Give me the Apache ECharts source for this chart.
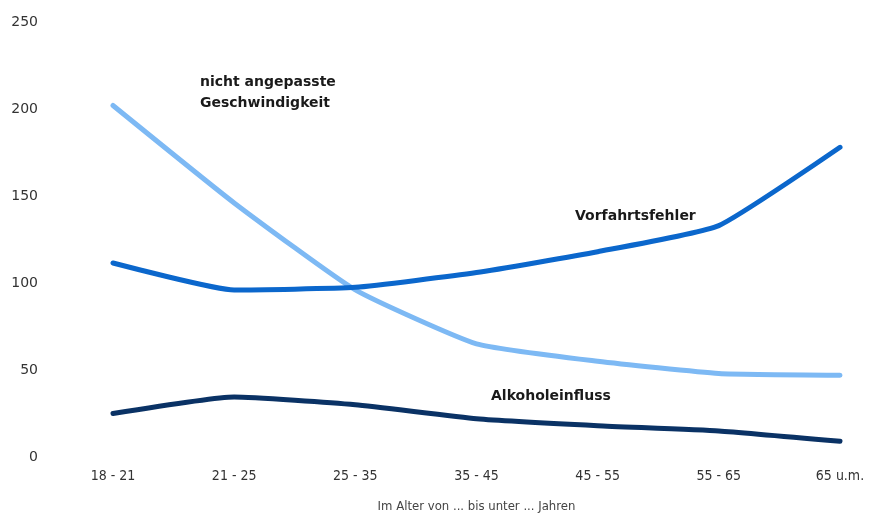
<!DOCTYPE html>
<html>
<head>
<meta charset="utf-8">
<script src="https://cdn.jsdelivr.net/npm/echarts@6/dist/echarts.min.js"></script>
<style>
  html, body { margin: 0; padding: 0; background: #fff; }
  #chart { width: 869px; height: 514px; }
</style>
</head>
<body>
<div id="chart"></div>
<script>
// Altersgruppen
const categories = ["18 - 21", "21 - 25", "25 - 35", "35 - 45", "45 - 55", "55 - 65", "65 u.m."];
const geschwindigkeit = [202, 146, 96, 65, 55, 48, 47];
const vorfahrt = [111.5, 96, 97.5, 106, 118, 133, 178];
const alkohol = [25, 34.5, 30, 22, 18, 15, 9];
const yTicks = [0, 50, 100, 150, 200, 250];

const chart = echarts.init(document.getElementById("chart"));

function lineSeries(name, data, color) {
  return {
    name: name,
    type: "line",
    data: data,
    smooth: 0.15,
    symbol: "none",
    lineStyle: { width: 5, color: color, cap: "round", join: "round" },
    z: 3,
  };
}

const labelStyle = {
  fontFamily: "DejaVu Sans",
  fontWeight: "bold",
  fontSize: 14,
  fill: "#1a1a1a",
};
const narrow = "'DejaVu Sans Condensed', 'Liberation Sans', sans-serif";

chart.setOption({
  animation: false,
  grid: { left: 113, right: 29, top: 22, bottom: 57, outerBoundsMode: "none" },
  xAxis: {
    type: "category",
    data: categories,
    boundaryGap: false,
    axisLine: { show: false },
    axisTick: { show: false },
    axisLabel: {
      margin: 12,
      color: "#333",
      fontFamily: narrow,
      fontSize: 14,
    },
    name: "Im Alter von ... bis unter ... Jahren",
    nameLocation: "middle",
    nameGap: 43,
    nameTextStyle: {
      color: "#444",
      fontFamily: narrow,
      fontSize: 13,
    },
  },
  yAxis: {
    type: "value",
    min: 0,
    max: 250,
    interval: 50,
    axisLine: { show: false },
    axisTick: { show: false },
    splitLine: { show: false },
    axisLabel: {
      margin: 75,
      color: "#333",
      fontFamily: "DejaVu Sans",
      fontSize: 14,
      formatter: (v) => (yTicks.includes(v) ? String(v) : ""),
    },
  },
  series: [
    lineSeries("nicht angepasste Geschwindigkeit", geschwindigkeit, "#7db9f4"),
    lineSeries("Vorfahrtsfehler", vorfahrt, "#0b67cc"),
    lineSeries("Alkoholeinfluss", alkohol, "#0a3265"),
  ],
  graphic: [
    { type: "text", left: 200, top: 72, style: Object.assign({ text: "nicht angepasste\nGeschwindigkeit", lineHeight: 21 }, labelStyle) },
    { type: "text", left: 575, top: 209, style: Object.assign({ text: "Vorfahrtsfehler" }, labelStyle) },
    { type: "text", left: 491, top: 389, style: Object.assign({ text: "Alkoholeinfluss" }, labelStyle) },
  ],
});
</script>
</body>
</html>
